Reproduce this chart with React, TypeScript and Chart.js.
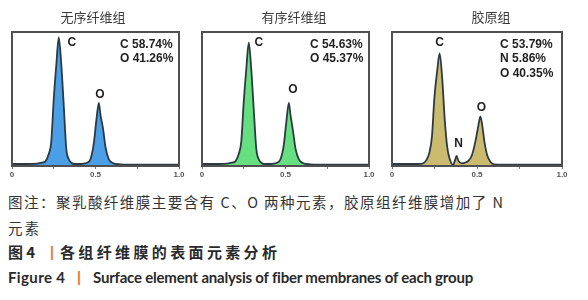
import React, { useEffect, useLayoutEffect, useRef } from "react";
import { Chart, registerables } from "chart.js";

Chart.register(...registerables);

// ---------------- data ----------------
const energyKeV = [
  0, 0.05, 0.1, 0.15, 0.18, 0.2, 0.22, 0.235, 0.25, 0.265, 0.28, 0.295, 0.31, 0.325,
  0.34, 0.36, 0.37, 0.38, 0.39, 0.41, 0.43, 0.45, 0.47, 0.49, 0.505, 0.52, 0.53,
  0.545, 0.56, 0.58, 0.6, 0.65, 0.7, 0.8, 0.9, 1.0,
];
const disorderedCounts = [
  1.5, 1.5, 1.5, 1.8, 2.5, 3.5, 9, 18, 50, 75, 96, 76, 45, 13,
  5, 2, 1.5, 1.5, 1.5, 1.5, 1.8, 2.5, 5, 17, 34, 47, 38,
  28, 14, 5, 2.5, 1.2, 1, 1, 1, 1,
];
const orderedCounts = [
  1.5, 1.5, 1.5, 1.8, 2.5, 3.5, 9, 18, 48, 72, 92, 72, 42, 13,
  5, 2, 1.5, 1.5, 1.5, 1.5, 1.8, 2.5, 5, 16, 33, 47, 38,
  26, 13, 5, 2.5, 1.2, 1, 1, 1, 1,
];
const collagenCounts = [
  1.5, 1.5, 1.5, 1.5, 1.8, 4, 10, 22, 52, 70, 84, 66, 35, 14,
  5, 0.8, 4, 7.5, 4, 2, 2.5, 4, 8, 18, 28, 37, 31,
  17, 8, 3, 1.2, 1, 1, 1, 1, 1,
];
const xTickValues = [0, 0.25, 0.5, 0.75, 1];
const xTickLabels = ["0", "", "0.5", "", "1.0"];
const panelTitles = ["无序纤维组", "有序纤维组", "胶原组"];
const disorderedComposition = ["C 58.74%", "O 41.26%"];
const orderedComposition = ["C 54.63%", "O 45.37%"];
const collagenComposition = ["C 53.79%", "N 5.86%", "O 40.35%"];
const disorderedPeaks = ["C", "O"];
const disorderedPeakEnergies = [0.28, 0.52];
const orderedPeaks = ["C", "O"];
const orderedPeakEnergies = [0.28, 0.52];
const collagenPeaks = ["C", "N", "O"];
const collagenPeakEnergies = [0.28, 0.38, 0.52];

const captionNote = "图注：聚乳酸纤维膜主要含有 C、O 两种元素，胶原组纤维膜增加了 N";
const captionNote2 = "元素";
const figLabelCn = "图 4";
const figTitleCn = "各组纤维膜的表面元素分析";
const figLabelEn = "Figure 4";
const figTitleEn = "Surface element analysis of fiber membranes of each group";

// ---------------- styles ----------------
type Panel = {
  title: string;
  counts: number[];
  composition: string[];
  peaks: string[];
  peakEnergies: number[];
  left: number;
  width: number;
  padLeft: number;
  padRight: number;
  fill: string;
  titleDx: number;
  labelOffsets: [number, number][];
};

const panels: Panel[] = [
  {
    title: panelTitles[0], counts: disorderedCounts, composition: disorderedComposition,
    peaks: disorderedPeaks, peakEnergies: disorderedPeakEnergies,
    left: 0, width: 196, padLeft: 12, padRight: 17, fill: "#4a9fe6", titleDx: 81,
    labelOffsets: [[13, 5], [1, -8]],
  },
  {
    title: panelTitles[1], counts: orderedCounts, composition: orderedComposition,
    peaks: orderedPeaks, peakEnergies: orderedPeakEnergies,
    left: 190, width: 196, padLeft: 12, padRight: 17, fill: "#66df80", titleDx: 92,
    labelOffsets: [[10, 0], [4, -13]],
  },
  {
    title: panelTitles[2], counts: collagenCounts, composition: collagenComposition,
    peaks: collagenPeaks, peakEnergies: collagenPeakEnergies,
    left: 380, width: 208, padLeft: 12, padRight: 26, fill: "#cbbb6e", titleDx: 99,
    labelOffsets: [[0, -10.5], [2, -12], [1, -9]],
  },
];

const CANVAS_H = 184;

function valueAt(counts: number[], e: number) {
  const i = energyKeV.indexOf(e);
  return i >= 0 ? counts[i] : 0;
}

function SpectrumPanel({ p }: { p: Panel }) {
  const ref = useRef<HTMLCanvasElement>(null);
  useEffect(() => {
    const canvas = ref.current!;
    const decor = {
      id: "decor",
      afterDatasetsDraw(chart: any) {
        const ctx = chart.ctx as CanvasRenderingContext2D;
        const a = chart.chartArea;
        const xs = chart.scales.x;
        const ys = chart.scales.y;
        ctx.save();
        ctx.strokeStyle = "#505050";
        ctx.lineWidth = 2;
        ctx.strokeRect(a.left, a.top, a.right - a.left, a.bottom - a.top);
        // title
        ctx.fillStyle = "#3a3a3a";
        ctx.font = "13px 'Noto Sans CJK SC'";
        ctx.textAlign = "center";
        ctx.textBaseline = "middle";
        ctx.fillText(p.title, a.left + p.titleDx, 17);
        // composition
        ctx.fillStyle = "#1e1e1e";
        ctx.font = "bold 12px 'Liberation Sans'";
        ctx.textAlign = "left";
        p.composition.forEach((t, i) => {
          ctx.fillText(t, a.left + 108, a.top + 12.5 + i * 14.6);
        });
        // peak labels
        ctx.textAlign = "center";
        p.peaks.forEach((t, i) => {
          const e = p.peakEnergies[i];
          const px = xs.getPixelForValue(e) + p.labelOffsets[i][0];
          const py = ys.getPixelForValue(valueAt(p.counts, e)) + p.labelOffsets[i][1];
          ctx.fillText(t, px, py);
        });
        ctx.restore();
      },
    };
    const chart = new Chart(canvas, {
      type: "line",
      data: {
        datasets: [
          {
            data: energyKeV.map((x, i) => ({ x, y: p.counts[i] })),
            borderColor: "#2c3a44",
            borderWidth: 1.8,
            backgroundColor: p.fill,
            fill: "origin",
            pointRadius: 0,
            cubicInterpolationMode: "monotone",
          },
        ],
      },
      options: {
        animation: false,
        responsive: false,
        maintainAspectRatio: false,
        devicePixelRatio: 1,
        layout: { padding: { left: p.padLeft, right: p.padRight, top: 32, bottom: 0 } },
        plugins: { legend: { display: false }, tooltip: { enabled: false }, title: { display: false } },
        scales: {
          x: {
            type: "linear",
            min: 0,
            max: 1,
            afterBuildTicks: (s: any) => {
              s.ticks = xTickValues.map((v) => ({ value: v }));
            },
            afterFit: (s: any) => {
              s.height = CANVAS_H - 166;
            },
            ticks: {
              autoSkip: false,
              maxRotation: 0,
              padding: 1,
              color: "#555",
              font: { size: 8, weight: "bold", family: "'Liberation Sans'" },
              callback: (v: any) => {
                const i = xTickValues.indexOf(Number(v));
                return i >= 0 ? xTickLabels[i] : "";
              },
            },
            grid: { drawOnChartArea: false, drawTicks: true, tickLength: 3, color: "#777" },
            border: { display: false },
          },
          y: { display: false, min: 0, max: 100 },
        },
      } as any,
      plugins: [decor],
    });
    return () => chart.destroy();
  }, [p]);
  return (
    <canvas
      ref={ref}
      width={p.width}
      height={CANVAS_H}
      style={{ position: "absolute", left: p.left, top: 0, width: p.width, height: CANVAS_H }}
    />
  );
}

function Fit({ text, left, top, width, style }: { text: string; left: number; top: number; width: number; style: React.CSSProperties }) {
  const ref = useRef<HTMLSpanElement>(null);
  useLayoutEffect(() => {
    const el = ref.current!;
    el.style.letterSpacing = "0px";
    const w = el.getBoundingClientRect().width;
    const n = Array.from(text).length;
    if (n > 1) el.style.letterSpacing = `${(width - w) / (n - 1)}px`;
  }, [text, width]);
  return (
    <span ref={ref} style={{ position: "absolute", left, top, whiteSpace: "pre", lineHeight: "16px", ...style }}>
      {text}
    </span>
  );
}

const cnNote: React.CSSProperties = { fontFamily: "'Noto Sans CJK SC'", fontSize: 14.5, color: "#333" };
const cnBold: React.CSSProperties = { fontFamily: "'Noto Sans CJK SC'", fontSize: 15, fontWeight: 700, color: "#2a2a2a" };
const enBold: React.CSSProperties = { fontFamily: "Lato", fontSize: 15, fontWeight: 700, color: "#2a2a2a" };
const sep: React.CSSProperties = { fontFamily: "'Liberation Sans'", fontSize: 14, fontWeight: 700, color: "#e57a30" };

export default function App() {
  return (
    <div style={{ position: "absolute", left: 0, top: 0, width: 588, height: 300, background: "#fff", overflow: "hidden" }}>
      {panels.map((p, i) => (
        <SpectrumPanel key={i} p={p} />
      ))}
      <Fit text={captionNote} left={8} top={194} width={495} style={cnNote} />
      <Fit text={captionNote2} left={8} top={220} width={31} style={cnNote} />
      <Fit text={figLabelCn} left={8} top={244} width={27} style={cnBold} />
      <span style={{ position: "absolute", left: 50, top: 244, lineHeight: "16px", ...sep }}>|</span>
      <Fit text={figTitleCn} left={60} top={244} width={217} style={cnBold} />
      <Fit text={figLabelEn} left={8} top={269} width={57} style={enBold} />
      <span style={{ position: "absolute", left: 77, top: 269, lineHeight: "16px", ...sep }}>|</span>
      <Fit text={figTitleEn} left={93} top={269} width={380} style={enBold} />
    </div>
  );
}
